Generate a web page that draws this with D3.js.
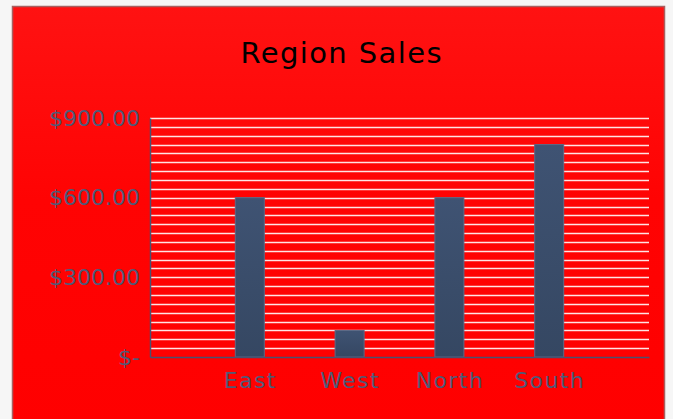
<!DOCTYPE html>
<html>
<head>
<meta charset="utf-8">
<script src="https://cdn.jsdelivr.net/npm/d3@7"></script>
<style>
  html, body { margin: 0; padding: 0; background: #f6f6f6; }
  svg { display: block; }
</style>
</head>
<body>
<script>
const categories = ["East", "West", "North", "South"];
const sales = [600, 100, 600, 800];
const yTickValues = [0, 300, 600, 900];
const yTickLabels = ["$-", "$300.00", "$600.00", "$900.00"];
const gridStep = 900 / 27;
const title = "Region Sales";

const W = 673, H = 419;
const svg = d3.select("body").append("svg").attr("width", W).attr("height", H);
const defs = svg.append("defs");

const bg = defs.append("linearGradient").attr("id", "bg").attr("x1", 0).attr("y1", 0).attr("x2", 0).attr("y2", 1);
bg.append("stop").attr("offset", "0%").attr("stop-color", "#ff1212");
bg.append("stop").attr("offset", "45%").attr("stop-color", "#ff0303");
bg.append("stop").attr("offset", "100%").attr("stop-color", "#ff0000");

const barG = defs.append("linearGradient").attr("id", "barg").attr("x1", 0).attr("y1", 0).attr("x2", 0).attr("y2", 1);
barG.append("stop").attr("offset", "0%").attr("stop-color", "#3f5373");
barG.append("stop").attr("offset", "100%").attr("stop-color", "#354762");

// panel
svg.append("rect").attr("x", 12.5).attr("y", 6.5).attr("width", 652).attr("height", 430)
  .attr("fill", "url(#bg)").attr("stroke", "#a86060").attr("stroke-width", 1.5);

const m = { left: 150, right: 649, top: 118, bottom: 357 };

const x = d3.scalePoint().domain(categories).range([m.left, m.right]).padding(1);
const y = d3.scaleLinear().domain([0, 900]).range([m.bottom, m.top]);

// title
svg.append("text").attr("x", 341).attr("y", 63).attr("dx", 0.7).attr("text-anchor", "middle")
  .attr("font-family", "DejaVu Sans").attr("font-size", 29).attr("letter-spacing", 1.4)
  .attr("fill", "#000")
  .text(title);

// gridlines
const gridVals = d3.range(1, 28).map(i => i * gridStep);
svg.append("g").selectAll("line").data(gridVals).join("line")
  .attr("x1", m.left).attr("x2", m.right)
  .attr("y1", d => Math.round(y(d)) + 0.5).attr("y2", d => Math.round(y(d)) + 0.5)
  .attr("stroke", "#ffe4e4").attr("stroke-width", 1.6);

// bars
const bw = 29;
svg.append("g").selectAll("rect").data(sales).join("rect")
  .attr("x", (d, i) => x(categories[i]) - bw / 2)
  .attr("y", d => y(d))
  .attr("width", bw)
  .attr("height", d => m.bottom - y(d))
  .attr("fill", "url(#barg)")
  .attr("stroke", "#5a6885").attr("stroke-width", 1);

// axes
const axisColor = "#4a5270";
const labelColor = "#4f5a78";
const yAxis = d3.axisLeft(y).tickValues(yTickValues)
  .tickFormat((d, i) => yTickLabels[i]).tickSize(0).tickPadding(10);
const gy = svg.append("g").attr("transform", `translate(${m.left},0)`).call(yAxis);
gy.select(".domain").attr("stroke", axisColor).attr("stroke-width", 1.5);
gy.selectAll("text").attr("font-family", "DejaVu Sans").attr("font-size", 22).attr("fill", labelColor);

const xAxis = d3.axisBottom(x).tickSize(0).tickPadding(15);
const gx = svg.append("g").attr("transform", `translate(0,${m.bottom})`).call(xAxis);
gx.select(".domain").attr("stroke", axisColor).attr("stroke-width", 1.5);
gx.selectAll("text").attr("font-family", "DejaVu Sans").attr("font-size", 22)
  .attr("letter-spacing", 1.4).attr("dx", 0).attr("fill", labelColor);
</script>
</body>
</html>
